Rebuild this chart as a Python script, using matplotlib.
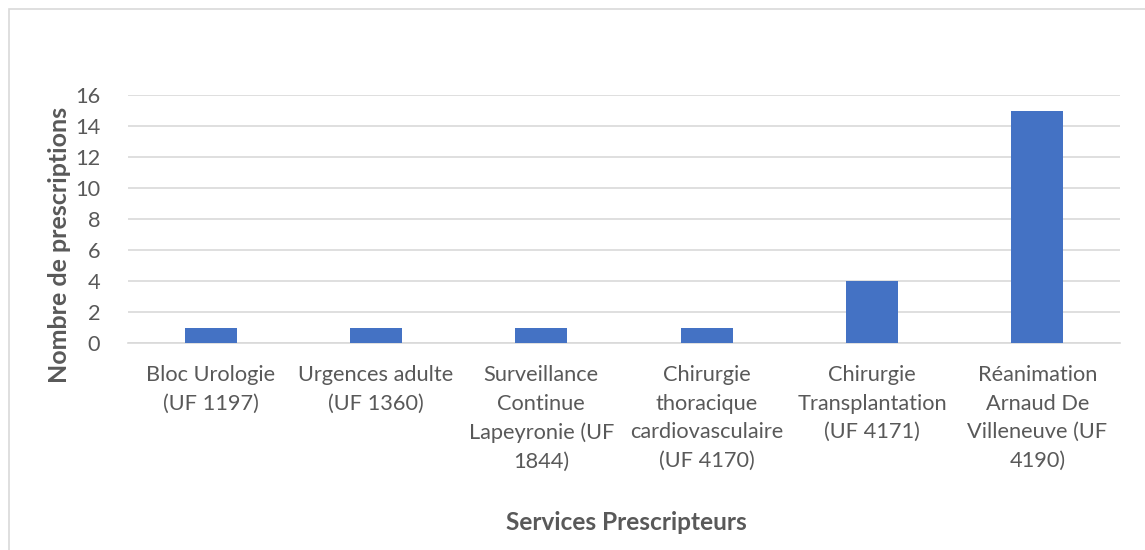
import matplotlib
matplotlib.use("Agg")
import matplotlib.pyplot as plt
from matplotlib.patches import Rectangle

categories = [
    "Bloc Urologie\n(UF 1197)",
    "Urgences adulte\n(UF 1360)",
    "Surveillance\nContinue\nLapeyronie (UF\n1844)",
    "Chirurgie\nthoracique\ncardiovasculaire\n(UF 4170)",
    "Chirurgie\nTransplantation\n(UF 4171)",
    "Réanimation\nArnaud De\nVilleneuve (UF\n4190)",
]
values = [1, 1, 1, 1, 4, 15]
yticks = [0, 2, 4, 6, 8, 10, 12, 14, 16]

plt.rcParams['font.family'] = ['Lato', 'DejaVu Sans']
W, H = 1145, 550
fig = plt.figure(figsize=(W / 100, H / 100), dpi=100)
fig.patch.set_facecolor("white")

# chart border
fig.patches.append(Rectangle((9 / W, -0.1), 1.2, 1 - 9 / H + 0.1, transform=fig.transFigure,
                             fill=False, edgecolor="#D9D9D9", linewidth=1.2))

ax = fig.add_axes([128 / W, 1 - 343 / H, (1120 - 128) / W, (343 - 95) / H])
x = list(range(len(categories)))
ax.bar(x, values, width=0.315, color="#4472C4", zorder=3)
ax.set_xlim(-0.5, len(categories) - 0.5)
ax.set_ylim(0, 16)
ax.set_yticks(yticks)
ax.set_xticks(x)
ax.set_xticklabels(categories, fontsize=15.7, color="#595959", linespacing=1.53, va="top")
ax.tick_params(axis="y", labelsize=15.7, labelcolor="#595959", length=0, pad=20)
ax.tick_params(axis="x", length=0, pad=16)
ax.grid(axis="y", color="#D9D9D9", linewidth=1.2, zorder=0)
for s in ["top", "right", "left"]:
    ax.spines[s].set_visible(False)
ax.spines["bottom"].set_color("#D9D9D9")
ax.spines["bottom"].set_linewidth(1.2)

fig.text(60 / W, 1 - 245 / H, "Nombre de prescriptions", rotation=90, ha="center", va="center",
         fontsize=18, fontweight="bold", color="#595959")
fig.text(626 / W, 1 - 522 / H, "Services Prescripteurs", ha="center", va="center",
         fontsize=17.6, fontweight="bold", color="#595959")

fig.savefig("out.png", dpi=100, facecolor="white")
